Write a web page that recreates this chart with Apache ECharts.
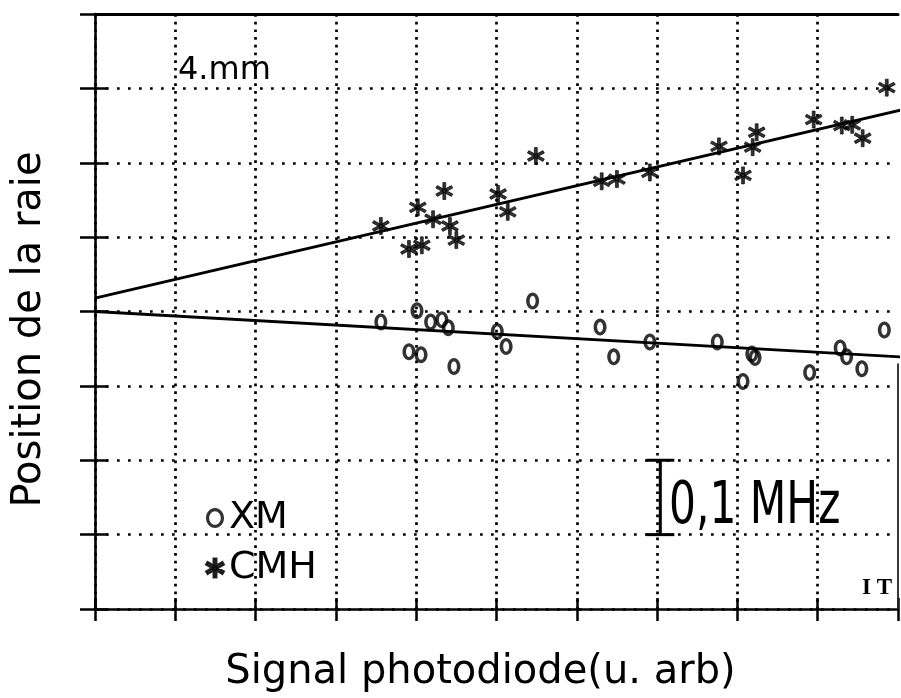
<!DOCTYPE html>
<html>
<head>
<meta charset="utf-8">
<script src="https://cdn.jsdelivr.net/npm/echarts@6/dist/echarts.min.js"></script>
<style>
html,body{margin:0;padding:0;background:#fff;}
#chart{width:901px;height:698px;}
</style>
</head>
<body>
<div id="chart"></div>
<script>
// ---- data (x: signal photodiode, arb. units; y: line position, MHz) ----
var xmX  = [3.56, 4.01, 3.91, 4.06, 4.18, 4.32, 4.40, 4.47, 5.01, 5.12, 5.45, 6.29, 6.46, 6.91, 7.75, 8.07, 8.18, 8.22, 8.90, 9.28, 9.36, 9.55, 9.83];
var xmY  = [0.386, 0.401, 0.346, 0.342, 0.386, 0.389, 0.378, 0.326, 0.373, 0.353, 0.414, 0.379, 0.339, 0.359, 0.359, 0.306, 0.343, 0.338, 0.318, 0.351, 0.339, 0.323, 0.375];
var cmhX = [3.56, 3.91, 4.02, 4.07, 4.21, 4.35, 4.42, 4.50, 5.02, 5.14, 5.49, 6.31, 6.50, 6.91, 7.77, 8.07, 8.19, 8.24, 8.95, 9.30, 9.43, 9.56, 9.86];
var cmhY = [0.515, 0.484, 0.540, 0.489, 0.524, 0.562, 0.515, 0.496, 0.558, 0.534, 0.609, 0.575, 0.578, 0.587, 0.622, 0.583, 0.621, 0.641, 0.658, 0.650, 0.651, 0.633, 0.701];
var fitX    = [0, 10.04];
var xmFitY  = [0.400, 0.339];
var cmhFitY = [0.418, 0.671];
var scaleBarX = [7.04, 7.04];
var scaleBarY = [0.1, 0.2];
var rightEdgeX = [10, 10];
var rightEdgeY = [0, 0.33];
var xMin = 0, xMax = 10, xStep = 1;
var yMin = 0, yMax = 0.8, yStep = 0.1;
var xTitle = 'Signal photodiode(u. arb)';
var yTitle = 'Position de la raie';
var seriesNames = ['XM', 'CMH'];

function zip(a, b) { return a.map(function (v, i) { return [v, b[i]]; }); }

var STAR = 'path://M8.4 0L11.6 0L11.6 20L8.4 20Z M0.54 6.39L2.14 3.61L19.46 13.61L17.86 16.39Z M2.14 16.39L0.54 13.61L17.86 3.61L19.46 6.39Z';
// elliptical rings (outer clockwise, inner counter-clockwise -> hole)
var RING = 'path://M10 0C15.52 0 20 6.27 20 14C20 21.73 15.52 28 10 28C4.48 28 0 21.73 0 14C0 6.27 4.48 0 10 0Z ' +
           'M10 5.4C7.46 5.4 5.4 9.25 5.4 14C5.4 18.75 7.46 22.6 10 22.6C12.54 22.6 14.6 18.75 14.6 14C14.6 9.25 12.54 5.4 10 5.4Z';
var RING_LEGEND = 'path://M10 0C14.97 0 19 4.48 19 10C19 15.52 14.97 20 10 20C5.03 20 1 15.52 1 10C1 4.48 5.03 0 10 0Z ' +
           'M10 3.2C6.8 3.2 4.2 6.24 4.2 10C4.2 13.76 6.8 16.8 10 16.8C13.2 16.8 15.8 13.76 15.8 10C15.8 6.24 13.2 3.2 10 3.2Z';
var FONT = 'DejaVu Sans';

// x split lines: dotted at 1..9, none at the right edge
var xGridColors = [];
for (var i = xMin; i <= xMax; i += xStep) xGridColors.push(i === xMax ? 'rgba(0,0,0,0)' : '#000');

var chart = echarts.init(document.getElementById('chart'), null, {renderer: 'canvas'});

var axisBase = {type: 'value', axisLabel: {show: false}, splitLine: {show: false}};
function ax(extra) { return Object.assign({}, axisBase, extra); }

chart.setOption({
  animation: false,
  backgroundColor: '#fff',
  grid: {left: 95, right: 3, top: 14, bottom: 87, containLabel: false},
  xAxis: [
    ax({min: xMin, max: xMax, interval: xStep, position: 'bottom',
        axisLine: {show: true, onZero: false, lineStyle: {color: '#000', width: 2.6}},
        axisTick: {show: true, length: 12, lineStyle: {color: '#000', width: 2.5}},
        splitLine: {show: true, lineStyle: {color: xGridColors, width: 2.7, type: [2.7, 5.0], cap: 'butt'}},
        name: xTitle, nameLocation: 'middle', nameGap: 44,
        nameTextStyle: {fontFamily: FONT, fontSize: 40, color: '#000', padding: [0, 32, 0, 0]}}),
    ax({min: xMin, max: xMax, interval: xStep, position: 'bottom', offset: -11,
        axisLine: {show: false, onZero: false},
        axisTick: {show: true, length: 11, lineStyle: {color: '#000', width: 2.5}}}),
    ax({min: xMin, max: xMax, interval: xStep, position: 'top',
        axisLine: {show: true, onZero: false, lineStyle: {color: '#000', width: 3}},
        axisTick: {show: false}})
  ],
  yAxis: [
    ax({min: yMin, max: yMax, interval: yStep, position: 'left',
        axisLine: {show: true, onZero: false, lineStyle: {color: '#000', width: 2.6}},
        axisTick: {show: true, length: 15, lineStyle: {color: '#000', width: 2.5}},
        splitLine: {show: true, lineStyle: {color: '#000', width: 2.7, type: [2.7, 8.3], cap: 'butt'}},
        name: yTitle, nameLocation: 'middle', nameGap: 45, nameRotate: 90,
        nameTextStyle: {fontFamily: FONT, fontSize: 40, color: '#000', padding: [0, 36, 0, 0]}}),
    ax({min: yMin, max: yMax, interval: yStep, position: 'left', offset: -13,
        axisLine: {show: false, onZero: false},
        axisTick: {show: true, length: 13, lineStyle: {color: '#000', width: 2.5}}})
  ],
  legend: {
    orient: 'vertical', left: 200, top: 494, itemGap: 12,
    itemWidth: 18, itemHeight: 20,
    textStyle: {fontFamily: FONT, fontSize: 38, color: '#000'},
    data: [{name: seriesNames[0], icon: RING_LEGEND}, {name: seriesNames[1], icon: STAR}]
  },
  series: [
    {name: 'fitXM', type: 'line', data: zip(fitX, xmFitY), symbol: 'none', clip: false, silent: true,
     lineStyle: {color: '#000', width: 2.8}, z: 3},
    {name: 'fitCMH', type: 'line', data: zip(fitX, cmhFitY), symbol: 'none', clip: false, silent: true,
     lineStyle: {color: '#000', width: 2.8}, z: 3},
    {name: seriesNames[0], type: 'scatter', data: zip(xmX, xmY), symbol: RING, symbolSize: [13, 17],
     itemStyle: {color: '#000', borderWidth: 0}, z: 5},
    {name: seriesNames[1], type: 'scatter', data: zip(cmhX, cmhY), symbol: STAR, symbolSize: [17, 17],
     itemStyle: {color: '#000', borderColor: '#000', borderWidth: 0.8}, z: 5},
    {name: 'scaleBar', type: 'line', data: zip(scaleBarX, scaleBarY), symbol: 'rect', symbolSize: [28, 3],
     showSymbol: true, silent: true, itemStyle: {color: '#000'}, lineStyle: {color: '#000', width: 3}, z: 6},
    {name: 'edge', type: 'line', data: zip(rightEdgeX, rightEdgeY), symbol: 'none', silent: true, clip: false,
     lineStyle: {color: '#222', width: 1.8}, z: 2}
  ],
  graphic: [
    {type: 'text', x: 178, y: 71, silent: true,
     style: {text: '4.mm', font: '32px "DejaVu Sans"', fill: '#000', align: 'left', verticalAlign: 'middle'}},
    {type: 'text', x: 669, y: 508, scaleX: 0.73, silent: true,
     style: {text: '0,1 MHz', font: '58px "DejaVu Sans"', fill: '#000', align: 'left', verticalAlign: 'middle'}},
    {type: 'text', x: 877, y: 588, silent: true,
     style: {text: 'I T', font: 'bold 23px "Liberation Serif"', fill: '#000', align: 'center', verticalAlign: 'middle'}}
  ]
});
</script>
</body>
</html>
